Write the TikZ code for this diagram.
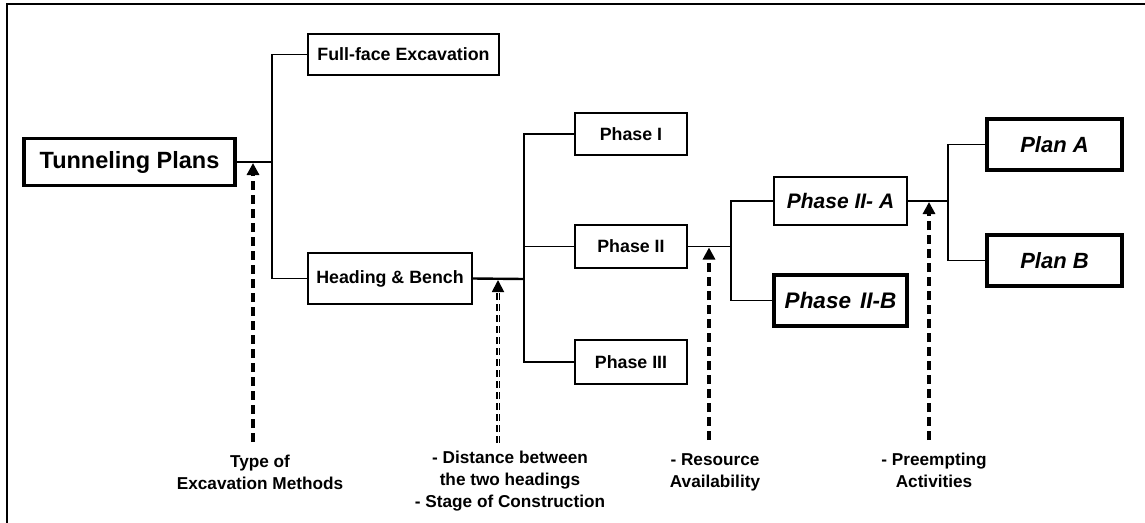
\documentclass[tikz,border=0pt]{standalone}
\usepackage{fontspec}
\setmainfont{Liberation Sans}
\usetikzlibrary{arrows.meta}
\begin{document}
\begin{tikzpicture}[x=1pt,y=-1pt,
  thinbox/.style={draw,line width=1.5pt,inner sep=0pt,font=\fontsize{17.8}{20}\selectfont\bfseries},
  thickbox/.style={draw,line width=3.6pt,inner sep=0pt,font=\fontsize{22}{26}\selectfont\bfseries\itshape},
  conn/.style={line width=1.9pt},
  dasharrow/.style={line width=3.8pt,dash pattern=on 9pt off 5pt,-{Triangle[length=12pt,width=12pt]}},
  dblarrow/.style={line width=1.8pt,double,double distance=0.9pt,dash pattern=on 7pt off 4pt,-{Triangle[length=12pt,width=12pt]}},
  lab/.style={align=center,anchor=north,inner sep=0pt,font=\fontsize{17.2}{22}\selectfont\bfseries}]
\useasboundingbox (0,0) rectangle (1145,522);
\draw[line width=2pt] (7,540) -- (7,4) -- (1160,4);
% nodes
\node[thickbox,font=\fontsize{23.5}{26}\selectfont\bfseries,minimum width=211pt,minimum height=47pt] (TP) at (129.5,162) {Tunneling\ Plans};
\node[thinbox,minimum width=191pt,minimum height=41pt] (FF) at (403.5,54.5) {Full-face Excavation};
\node[thinbox,minimum width=164pt,minimum height=51pt] (HB) at (390,278.5) {Heading \& Bench};
\node[thinbox,minimum width=112pt,minimum height=42pt] (P1) at (631,134) {Phase I};
\node[thinbox,minimum width=112pt,minimum height=43pt] (P2) at (631,246.5) {Phase II};
\node[thinbox,minimum width=112pt,minimum height=44pt] (P3) at (631,362) {Phase III};
\node[thinbox,font=\fontsize{21}{24}\selectfont\bfseries\itshape,minimum width=133pt,minimum height=48pt] (PA) at (840.5,201) {Phase II- A};
\node[thickbox,font=\fontsize{22.5}{26}\selectfont\bfseries\itshape,minimum width=133pt,minimum height=51pt] (PB) at (840.5,300.5) {Phase\hspace{9pt}II-B};
\node[thickbox,minimum width=135pt,minimum height=51pt] (LA) at (1054.5,144.5) {Plan A};
\node[thickbox,minimum width=135pt,minimum height=51pt] (LB) at (1054.5,260.5) {Plan B};
% branch points
\coordinate (b1) at (272,162);
\coordinate (b2) at (524,279);
\coordinate (b3) at (731,246.5);
\coordinate (b4) at (948,201);
% connectors
\draw[conn] (TP.east) -- (b1);
\draw[conn] (FF.west) -| (b1) |- (HB.west);
\draw[conn,line width=2.4pt] (HB.east) -- (b2);
\draw[conn] (P1.west) -| (b2) |- (P3.west);
\draw[conn] (b2 |- P2.west) -- (P2.west);
\draw[conn] (P2.east) -- (b3);
\draw[conn] (PA.west) -| (b3) |- (PB.west);
\draw[conn] (PA.east) -- (b4);
\draw[conn] (LA.west) -| (b4) |- (LB.west);
% dashed influence arrows
\coordinate (d1) at (253,442);
\coordinate (d2) at (498,443);
\coordinate (d3) at (709,440);
\coordinate (d4) at (929,440);
\draw[dasharrow] (d1) -- ([yshift=-1pt]d1 |- b1);
\draw[dblarrow] (d2) -- ([yshift=-1pt]d2 |- b2);
\draw[dasharrow] (d3) -- ([yshift=-1pt]d3 |- b3);
\draw[dasharrow] (d4) -- ([yshift=-1pt]d4 |- b4);
% labels
\node[lab] (L1) at (260,455) {Type of\\Excavation Methods};
\node[lab] (L2) at (510,451) {- Distance between\\the two headings\\- Stage of Construction};
\node[lab] (L3) at (715,453) {- Resource\\Availability};
\node[lab] (L4) at (934,453) {- Preempting\\Activities};
\end{tikzpicture}
\end{document}
